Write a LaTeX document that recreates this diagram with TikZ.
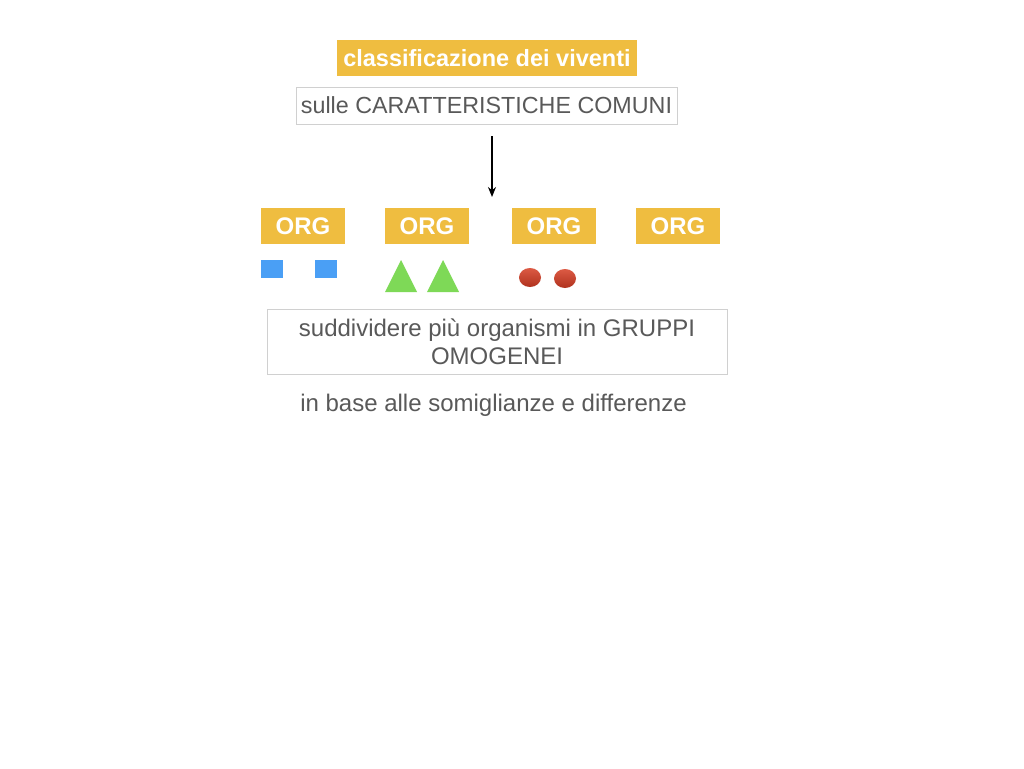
\documentclass[tikz,border=0pt]{standalone}
\usepackage{fontspec}
\setmainfont{Liberation Sans}
\usepackage{xcolor}
\usetikzlibrary{arrows.meta}
\definecolor{orgyellow}{HTML}{EFBD40}
\definecolor{textgray}{HTML}{595959}
\definecolor{boxgray}{HTML}{D0D0D0}
\definecolor{sqblue}{HTML}{4A9FF5}
\definecolor{trigreen}{HTML}{7ED957}
\definecolor{dotredtop}{HTML}{DC5A44}
\definecolor{dotredbot}{HTML}{B0321E}
\begin{document}
\begin{tikzpicture}[x=1pt, y=-1pt,
    yellowbox/.style={fill=orgyellow, text=white, font=\fontsize{24}{28}\selectfont\bfseries, inner sep=0pt, minimum height=36pt},
    textbox/.style={draw=boxgray, line width=1pt, text=textgray, font=\fontsize{24}{28}\selectfont, inner sep=0pt, align=center},
    plaintext/.style={text=textgray, font=\fontsize{24}{28}\selectfont, inner sep=0pt},
    reddot/.style={top color=dotredtop, bottom color=dotredbot}]
    \useasboundingbox[fill=white] (0,0) rectangle (1024,768);
    % titolo
    \node[yellowbox, minimum width=300pt, font=\fontsize{23.5}{28}\selectfont\bfseries] (title) at (487,58) {classificazione dei viventi};
    \node[textbox, minimum width=381pt, minimum height=37pt, font=\fontsize{23.3}{28}\selectfont] (comuni) at (486.5,105.5) {\raisebox{-1.5pt}{sulle CARATTERISTICHE COMUNI}};
    \coordinate (arrtop) at (492,136);
    \coordinate (arrbot) at (492,197);
    \draw[line width=1.6pt, -{Stealth[length=10pt, width=8pt]}] (arrtop) -- (arrbot);
    % organismi
    \node[yellowbox, minimum width=84pt] (org1) at (303,226) {ORG};
    \node[yellowbox, minimum width=84pt] (org2) at (427,226) {ORG};
    \node[yellowbox, minimum width=84pt] (org3) at (554,226) {ORG};
    \node[yellowbox, minimum width=84pt] (org4) at (678,226) {ORG};
    \fill[sqblue] (261,260) rectangle (283,278);
    \fill[sqblue] (315,260) rectangle (337,278);
    \fill[trigreen] (385,292) -- (401,260) -- (417,292) -- cycle;
    \fill[trigreen] (427,292) -- (443,260) -- (459,292) -- cycle;
    \shade[reddot] (530,277.5) ellipse (11 and 9.5);
    \shade[reddot] (565,278.5) ellipse (11 and 9.5);
    % gruppi
    \node[textbox, minimum width=460pt, minimum height=65pt] (gruppi) at (497,341.5) {suddividere più organismi in GRUPPI\\OMOGENEI};
    \node[plaintext] (base) at (493.5,405) {in base alle somiglianze e differenze};
\end{tikzpicture}
\end{document}
